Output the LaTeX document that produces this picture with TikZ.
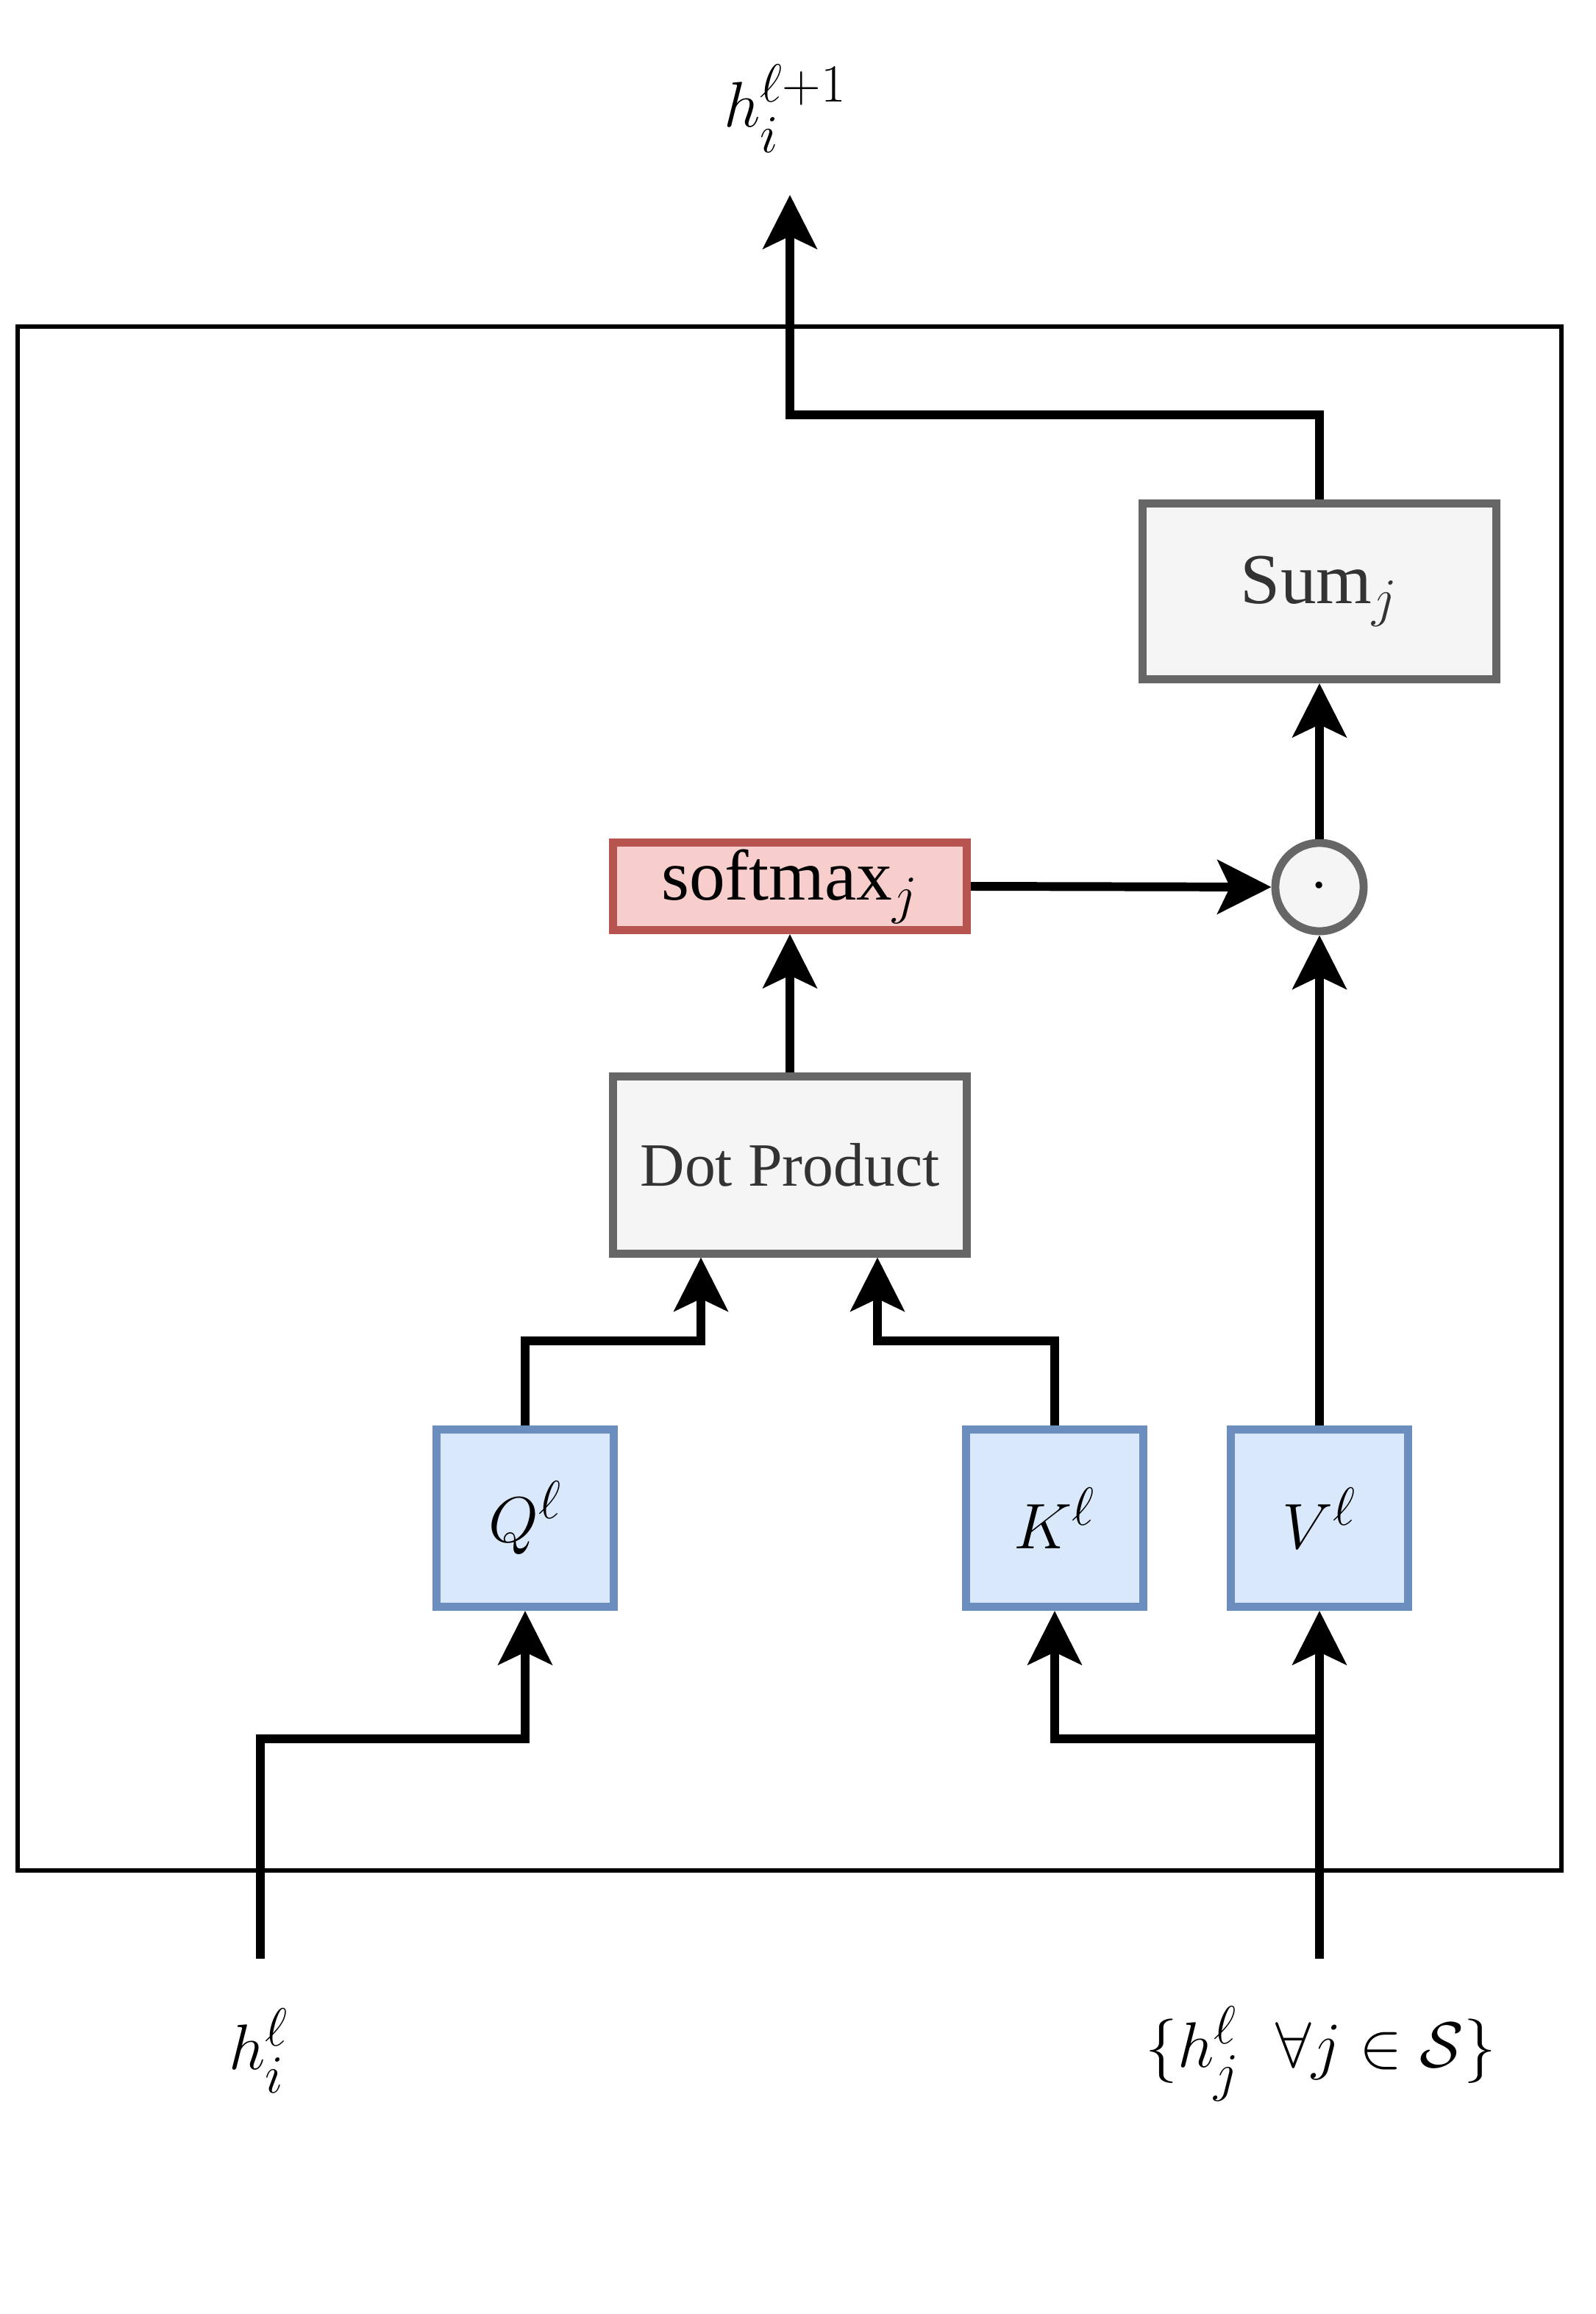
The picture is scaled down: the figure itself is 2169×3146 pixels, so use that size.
\documentclass[tikz,border=0pt]{standalone}
\usepackage{amsmath}
\usepackage{amssymb}
\usepackage{fontspec}
\setmainfont{Liberation Serif}
\usepackage{tikz}
\usetikzlibrary{arrows.meta}
\definecolor{grayfill}{HTML}{F5F5F5}
\definecolor{graydraw}{HTML}{666666}
\definecolor{graytext}{HTML}{333333}
\definecolor{redfill}{HTML}{F8CECC}
\definecolor{reddraw}{HTML}{B85450}
\definecolor{bluefill}{HTML}{DAE8FC}
\definecolor{bluedraw}{HTML}{6C8EBF}
\newcommand{\boxfont}{\fontsize{27.7}{32}\selectfont}
\newcommand{\mathlabelfont}{\fontsize{30}{34}\selectfont}
\tikzstyle{block}=[draw, line width=3.1pt, inner sep=0, outer sep=0.5\pgflinewidth, font=\boxfont]
\tikzstyle{graybox}=[block, draw=graydraw, fill=grayfill, text=graytext, minimum width=4.81cm]
\tikzstyle{redbox}=[block, draw=reddraw, fill=redfill, minimum width=4.81cm, minimum height=1.19cm]
\tikzstyle{bluebox}=[block, draw=bluedraw, fill=bluefill, minimum size=2.41cm, font=\mathlabelfont]
\tikzstyle{dotop}=[block, circle, draw=graydraw, fill=grayfill, minimum size=1.2cm]
\tikzstyle{flow}=[line width=3.4pt, -{Stealth[length=7.3mm, width=7.3mm, inset=1.7mm]}]
\tikzstyle{attention}=[x=0.01cm, y=-0.01cm,
                       % Labels outside the boxes.
                       every node/.style={font=\mathlabelfont}]

\begin{document}
\begin{tikzpicture}[attention]
        \useasboundingbox (0, 0) rectangle (2169, 3146);
        \draw[line width=1.7pt] (24, 444) rectangle (2123, 2543);
        \node[graybox, minimum height=2.39cm] (sum) at (1794, 804) {Sum$_j$};
        \node[dotop] (dot) at (1794, 1206) {$\cdot$};
        \node[redbox] (softmax) at (1074, 1205) {softmax$_j$};
        \node[graybox, minimum height=2.40cm, font=\fontsize{23.8}{28}\selectfont] (dotprod) at (1074, 1584) {Dot Product};
        \node[bluebox] (Q) at (714, 2064) {$Q^\ell$};
        \node[bluebox] (K) at (1434, 2064) {$K^\ell$};
        \node[bluebox] (V) at (1794, 2064) {$V^\ell$};
        \coordinate (out) at (1074, 265);
        \coordinate (outbend) at (1074, 564);
        \coordinate (qbend) at (953, 1823);
        \coordinate (kbend) at (1193, 1823);
        \coordinate (hi) at (354, 2663);
        \coordinate (hibend) at (354, 2364);
        \coordinate (hj) at (1794, 2663);
        \draw[flow] (sum.north) |- (outbend) -- (out);
        \draw[flow] (dot.north) -- (sum.south);
        \draw[flow] (softmax.east) -- (dot.west);
        \draw[flow] (V.north) -- (dot.south);
        \draw[flow] (dotprod.north) -- (softmax.south);
        \draw[flow] (Q.north) |- (qbend) -- (qbend |- dotprod.south);
        \draw[flow] (K.north) |- (kbend) -- (kbend |- dotprod.south);
        \draw[flow] (hi) -- (hibend) -| (Q.south);
        \draw[flow] (hj) -- (V.south);
        \draw[flow] (hj |- hibend) -| (K.south);
        \node[anchor=base] (hout) at (1068, 173) {$h_i^{\ell+1}$};
        \node[anchor=base] (hin) at (352, 2813) {$h_i^\ell$};
        \node[anchor=base] (hset) at (1796, 2810) {$\{h_j^\ell\;\;\forall j \in \mathcal{S}\}$};
    \end{tikzpicture}
\end{document}
